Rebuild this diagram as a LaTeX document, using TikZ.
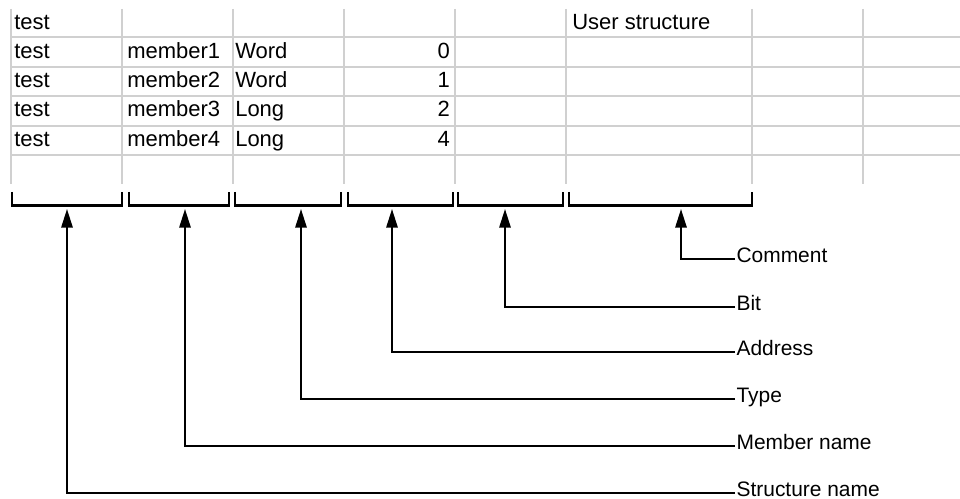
\documentclass[tikz,border=0pt]{standalone}
\usepackage{fontspec}
\setmainfont{Liberation Sans}
\usepackage{xcolor}
\definecolor{gridgray}{RGB}{208,208,208}
\usetikzlibrary{arrows.meta}

\begin{document}
\begin{tikzpicture}[x=0.75pt, y=-0.75pt,
    gridline/.style={gridgray, line width=1.5pt},
    cell/.style={anchor=base west, inner sep=0pt, font=\fontsize{16.5}{18}\selectfont},
    numcell/.style={cell, anchor=base east},
    brace/.style={line width=1.5pt},
    pointer/.style={->, >={Triangle[length=14pt, width=8.5pt]}, line width=1.5pt},
    caption/.style={anchor=mid west, inner sep=1pt, font=\fontsize{15.7}{18}\selectfont}]
  \useasboundingbox (0,0) rectangle (960,499);

  % Spreadsheet grid
  \foreach \gx in {11,122,233,344,455,566,752,863}
    \draw[gridline] (\gx,9) -- (\gx,184);
  \foreach \gy in {37.5,67.5,96.5,126.5,155.5}
    \draw[gridline] (11,\gy) -- (960,\gy);

  % First row
  \node[cell] (head) at (14,29.3) {test};
  \node[cell] (user) at (572,29.3) {User structure};

  % Structure members
  \node[cell] (s1) at (14,58.5) {test};
  \node[cell] (m1) at (127,58.5) {member1};
  \node[cell] (t1) at (235,58.5) {Word};
  \node[numcell] (a1) at (450,58.5) {0};

  \node[cell] (s2) at (14,88) {test};
  \node[cell] (m2) at (127,88) {member2};
  \node[cell] (t2) at (235,88) {Word};
  \node[numcell] (a2) at (450,88) {1};

  \node[cell] (s3) at (14,117) {test};
  \node[cell] (m3) at (127,117) {member3};
  \node[cell] (t3) at (235,117) {Long};
  \node[numcell] (a3) at (450,117) {2};

  \node[cell] (s4) at (14,146.5) {test};
  \node[cell] (m4) at (127,146.5) {member4};
  \node[cell] (t4) at (235,146.5) {Long};
  \node[numcell] (a4) at (450,146.5) {4};

  % Brackets under the columns
  \draw[brace] (12,192) |- (122,205.5) -- (122,192);
  \draw[brace] (129,192) |- (229,205.5) -- (229,192);
  \draw[brace] (235,192) |- (341,205.5) -- (341,192);
  \draw[brace] (348,192) |- (453,205.5) -- (453,192);
  \draw[brace] (458,192) |- (563,205.5) -- (563,192);
  \draw[brace] (569,192) |- (752,205.5) -- (752,192);

  % Arrow tips just below the brackets
  \coordinate (tipStruct) at (67,209);
  \coordinate (tipMember) at (185,209);
  \coordinate (tipType) at (301,209);
  \coordinate (tipAddr) at (392,209);
  \coordinate (tipBit) at (505,209);
  \coordinate (tipComment) at (681,209);

  % Captions
  \node[caption] (lblComment) at (735,259) {Comment};
  \node[caption] (lblBit) at (735,306.7) {Bit};
  \node[caption] (lblAddr) at (735,352.3) {Address};
  \node[caption] (lblType) at (735,399.3) {Type};
  \node[caption] (lblMember) at (735,446) {Member name};
  \node[caption] (lblStruct) at (735,493) {Structure name};

  % Leader lines
  \draw[pointer] (lblComment.mid west) -| (tipComment);
  \draw[pointer] (lblBit.mid west) -| (tipBit);
  \draw[pointer] (lblAddr.mid west) -| (tipAddr);
  \draw[pointer] (lblType.mid west) -| (tipType);
  \draw[pointer] (lblMember.mid west) -| (tipMember);
  \draw[pointer] (lblStruct.mid west) -| (tipStruct);
\end{tikzpicture}
\end{document}
